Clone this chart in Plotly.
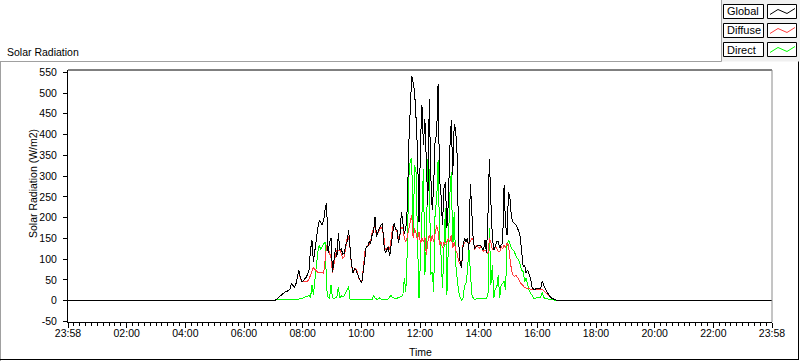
import plotly.graph_objects as go

# ---------------- data ----------------
SERIES_NAMES = ["Global", "Diffuse", "Direct"]
SERIES_COLORS = ["#000000", "#ff3c3c", "#00ff00"]
CHART_TITLE = "Solar Radiation"
Y_TITLE = "Solar Radiation (W/m2)"
X_TITLE = "Time"

AXIS_START = "23:58"          # left end of the time axis (previous day)
AXIS_SPAN_MIN = 1440          # one full day shown
SAMPLE_START = "06:41"        # first sample of the daytime record
SAMPLE_STEP_MIN = 3           # sampling interval of the record

x_tick_labels = ["23:58", "02:00", "04:00", "06:00", "08:00", "10:00", "12:00",
                 "14:00", "16:00", "18:00", "20:00", "22:00", "23:58"]
y_tick_values = [-50, 0, 50, 100, 150, 200, 250, 300, 350, 400, 450, 500, 550]

global_vals = [
    0, 0, 0, 0, 0, 0, 0, 1, 4, 7, 10, 14, 17, 20, 22, 22, 24, 28, 42, 38,
    32, 39, 58, 74, 58, 46, 48, 52, 56, 63, 74, 122, 146, 94, 122, 154, 175, 194, 186, 182,
    194, 222, 234, 114, 142, 150, 68, 99, 126, 106, 162,
    122, 125, 112, 113, 134, 142, 170, 118, 86, 68, 78, 74, 66, 54, 47, 44, 76, 110, 130, 130,
    142, 138, 158, 166, 202, 154, 167, 175, 182, 186, 138, 115, 122, 130, 107, 130, 162, 186, 171, 170,
    138, 158, 214, 182, 162, 174, 222, 374, 478, 542, 526,
    502, 438, 358, 190, 382, 470, 374, 438, 302, 230, 486, 302, 218, 278, 390, 398, 522, 294, 254, 182,
    270, 286, 174, 238, 366, 434, 302, 426, 410, 350, 142, 94, 79, 130, 150, 142, 150, 122, 282, 214,
    143, 126, 131, 134, 134, 134, 126, 122, 146, 114, 206,
    342, 238, 154, 122, 134, 142, 142, 126, 134, 138, 278, 182, 158, 262, 246, 202, 190, 187, 183, 175,
    168, 154, 106, 82, 86, 66, 74, 62, 54, 34, 28, 26, 30, 28, 30, 30, 46, 38, 26, 22,
    17, 11, 7, 5, 3, 2, 1, 0, 0, 0, 0,
]

diffuse_vals = [
    0, 0, 0, 0, 0, 0, 0, 1, 4, 7, 10, 14, 17, 20, 22, 22, 24, 28, 42, 38,
    32, 39, 58, 74, 55, 46, 45, 46, 46, 47, 52, 60, 70, 80, 75, 70, 68, 68, 68, 67,
    66, 94, 134, 127, 114, 103, 66, 94, 110, 122, 122,
    122, 113, 103, 106, 130, 150, 154, 126, 82, 70, 72, 77, 68, 54, 49, 46, 76, 118, 129, 133,
    134, 142, 164, 174, 182, 156, 164, 171, 177, 172, 154, 122, 126, 130, 122, 154, 178, 182, 172, 166,
    150, 158, 177, 174, 150, 142, 154, 170, 182, 206, 150,
    174, 162, 146, 166, 138, 150, 142, 154, 110, 142, 158, 142, 158, 142, 158, 182, 166, 134, 142, 126,
    142, 134, 142, 150, 142, 158, 126, 142, 122, 114, 94, 86, 82, 134, 138, 146, 142, 138, 142, 150,
    146, 122, 134, 130, 126, 130, 126, 118, 122, 118, 114,
    150, 140, 122, 128, 130, 126, 119, 118, 130, 124, 134, 127, 139, 134, 102, 75, 63, 58, 61, 57,
    52, 44, 39, 34, 32, 30, 30, 29, 28, 26, 27, 26, 26, 26, 26, 26, 28, 24, 22, 18,
    14, 9, 6, 5, 3, 2, 1, 0, 0, 0, 0,
]

direct_vals = [
    0, 0, 0, 0, 0, 0, 0, 2, 2, 2, 2, 2, 2, 2, 2, 2, 2, 2, 3, 3,
    3, 3, 3, 4, 4, 5, 7, 9, 10, 10, 14, 6, 38, 15, 54, 86, 118, 134, 122, 131,
    136, 142, 30, 7, 6, 38, 7, 6, 7, 10, 34,
    6, 12, 9, 12, 18, 26, 34, 2, 2, 2, 3, 2, 2, 2, 2, 2, 2, 2, 2, 2,
    2, 2, 2, 14, 6, 4, 4, 7, 4, 4, 4, 4, 4, 4, 9, 13, 7, 6, 6, 6,
    7, 8, 10, 14, 54, 22, 122, 294, 338, 342, 158,
    326, 310, 142, 6, 102, 206, 318, 62, 134, 342, 310, 62, 70, 22, 222, 238, 338, 158, 110, 30,
    142, 222, 14, 158, 254, 310, 126, 214, 90, 54, 22, 7, 2, 6, 34, 42, 70, 126, 70, 14,
    6, 3, 4, 6, 4, 6, 4, 6, 4, 6, 14,
    174, 38, 86, 6, 30, 31, 62, 6, 38, 42, 46, 26, 134, 146, 134, 127, 122, 118, 108, 103,
    97, 86, 74, 70, 46, 54, 38, 26, 18, 14, 6, 6, 6, 6, 7, 9, 20, 7, 6, 4,
    3, 2, 2, 2, 2, 1, 1, 0, 0, 0, 0,
]

NIGHT_VALUE = 0   # all three sensors read zero outside daylight


# ---------------- helpers ----------------
def minutes(hhmm):
    h, m = hhmm.split(":")
    return int(h) * 60 + int(m)


axis_start_min = minutes(AXIS_START) - 1440          # previous day
sample_first = minutes(SAMPLE_START) - axis_start_min


def series_xy(vals):
    xs = [0] + [sample_first + SAMPLE_STEP_MIN * i for i in range(len(vals))] + [AXIS_SPAN_MIN]
    ys = [NIGHT_VALUE] + list(vals) + [NIGHT_VALUE]
    return xs, ys


# ---------------- geometry (pixels) ----------------
W, H = 800, 361
PL, PR, PT, PB = 68, 772, 70, 322   # plot area edges
FONT = "Liberation Sans"
FS = 10.5


def fx(px):
    return (px - PL) / (PR - PL)


def fy(py):
    return (PB - py) / (PB - PT)


fig = go.Figure()
data_sets = [global_vals, diffuse_vals, direct_vals]
# draw Direct, Diffuse, then Global on top
for idx in [2, 1, 0]:
    xs, ys = series_xy(data_sets[idx])
    fig.add_trace(go.Scatter(x=xs, y=ys, mode="lines", name=SERIES_NAMES[idx],
                             line=dict(color=SERIES_COLORS[idx], width=1),
                             showlegend=False, hoverinfo="skip"))

y_min = -51.3
y_max = 555.5

fig.update_layout(
    width=W, height=H, autosize=False,
    margin=dict(l=PL, r=W - PR, t=PT, b=H - PB, pad=0),
    paper_bgcolor="#ffffff", plot_bgcolor="#ffffff",
    font=dict(family=FONT, size=FS, color="#000000"),
    xaxis=dict(range=[0, AXIS_SPAN_MIN],
               tickmode="array",
               tickvals=[i * 120 for i in range(len(x_tick_labels))],
               ticktext=x_tick_labels,
               ticks="outside", ticklen=5, tickwidth=1, tickcolor="#000000",
               ticklabelstandoff=-4,
               minor=dict(dtick=12, tick0=0, ticks="outside", ticklen=3,
                          tickcolor="#000000", tickwidth=1, showgrid=False),
               showline=True, linecolor="#000000", linewidth=1,
               showgrid=False, zeroline=False, fixedrange=True,
               tickfont=dict(family=FONT, size=FS, color="#000000")),
    yaxis=dict(range=[y_min, y_max],
               tickmode="array", tickvals=y_tick_values,
               ticktext=[str(v) for v in y_tick_values],
               ticks="outside", ticklen=4, tickwidth=1, tickcolor="#000000",
               ticklabelstandoff=4,
               showline=True, linecolor="#000000", linewidth=1,
               showgrid=False, zeroline=False, fixedrange=True,
               tickfont=dict(family=FONT, size=FS, color="#000000")),
)

shapes = []
# plot area: black top border, grey right border
shapes.append(dict(type="line", xref="paper", yref="paper", x0=0, x1=1, y0=1, y1=1,
                   line=dict(color="#000000", width=1)))
shapes.append(dict(type="line", xref="paper", yref="paper", x0=1, x1=1, y0=0, y1=1,
                   line=dict(color="#8a8a8a", width=1)))
# outer frame
shapes.append(dict(type="line", xref="paper", yref="paper", x0=fx(0), x1=fx(721.5),
                   y0=fy(61.5), y1=fy(61.5), line=dict(color="#a0a0a0", width=1)))
shapes.append(dict(type="line", xref="paper", yref="paper", x0=fx(0.5), x1=fx(0.5),
                   y0=fy(61.5), y1=fy(361), line=dict(color="#a0a0a0", width=1)))
shapes.append(dict(type="line", xref="paper", yref="paper", x0=fx(0), x1=fx(798.5),
                   y0=fy(359.5), y1=fy(359.5), line=dict(color="#000000", width=1)))
shapes.append(dict(type="line", xref="paper", yref="paper", x0=fx(798.5), x1=fx(798.5),
                   y0=fy(61.5), y1=fy(360), line=dict(color="#000000", width=1)))
# legend panel
shapes.append(dict(type="rect", xref="paper", yref="paper", x0=fx(721.5), x1=fx(800),
                   y0=fy(0), y1=fy(61.5), fillcolor="#f0f0f0", line=dict(width=0), layer="below"))
shapes.append(dict(type="line", xref="paper", yref="paper", x0=fx(721.5), x1=fx(721.5),
                   y0=fy(0), y1=fy(61.5), line=dict(color="#a0a0a0", width=1)))

annotations = []
row_tops = [4.5, 23.5, 42.5]
for i, name in enumerate(SERIES_NAMES):
    top = row_tops[i]
    bot = top + 14
    shapes.append(dict(type="rect", xref="paper", yref="paper", x0=fx(723.5), x1=fx(763.5),
                       y0=fy(bot), y1=fy(top), fillcolor="#ffffff",
                       line=dict(color="#000000", width=1)))
    shapes.append(dict(type="rect", xref="paper", yref="paper", x0=fx(767.5), x1=fx(796.5),
                       y0=fy(bot), y1=fy(top), fillcolor="#ffffff",
                       line=dict(color="#000000", width=1)))
    pts = [(770, top + 10), (778, top + 5), (787, top + 9), (795, top + 4)]
    path = "M " + " L ".join(f"{fx(px):.5f},{fy(py):.5f}" for px, py in pts)
    shapes.append(dict(type="path", xref="paper", yref="paper", path=path,
                       line=dict(color=SERIES_COLORS[i], width=1)))
    annotations.append(dict(text=name, xref="paper", yref="paper", x=fx(725), y=fy(top + 7),
                            xanchor="left", yanchor="middle", showarrow=False,
                            font=dict(family=FONT, size=11, color="#000000")))

annotations.append(dict(text=CHART_TITLE, xref="paper", yref="paper", x=fx(5), y=fy(52),
                        xanchor="left", yanchor="middle", showarrow=False,
                        font=dict(family=FONT, size=FS, color="#000000")))
annotations.append(dict(text=Y_TITLE, xref="paper", yref="paper", x=fx(33), y=fy(184),
                        xanchor="center", yanchor="middle", textangle=-90, showarrow=False,
                        font=dict(family=FONT, size=FS, color="#000000")))
annotations.append(dict(text=X_TITLE, xref="paper", yref="paper", x=fx(420), y=fy(352),
                        xanchor="center", yanchor="middle", showarrow=False,
                        font=dict(family=FONT, size=FS, color="#000000")))

fig.update_layout(shapes=shapes, annotations=annotations)
fig.write_html(
    "out.html", config={"displayModeBar": False},
    post_script=(
        "document.body.style.margin='0';document.body.style.overflow='hidden';"
        "document.querySelectorAll('.scatterlayer path.js-line').forEach("
        "function(p){p.style.shapeRendering='crispEdges';});"
    ),
)
